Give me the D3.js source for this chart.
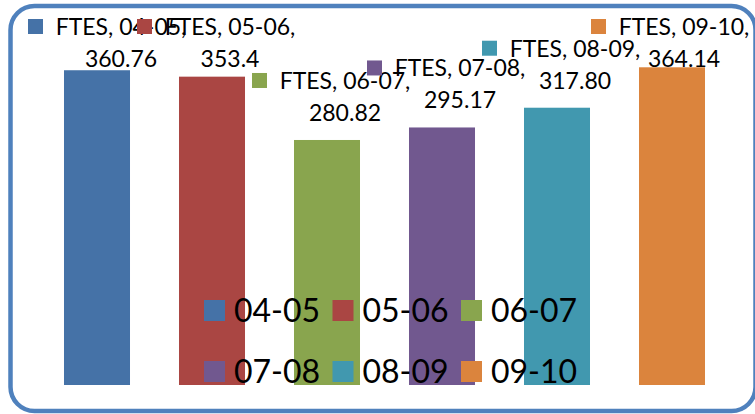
<!DOCTYPE html>
<html>
<head>
  <meta charset="utf-8">
  <script src="https://d3js.org/d3.v7.min.js"></script>
  <style>
    body { margin: 0; background: #fff; }
    text { font-family: Lato, "Open Sans", sans-serif; fill: #000; }
  </style>
</head>
<body>
<script>
  // chart values
  var periods = ["04-05", "05-06", "06-07", "07-08", "08-09", "09-10"];
  var ftes = [360.76, 353.4, 280.82, 295.17, 317.80, 364.14];
  var valueLabels = ["360.76", "353.4", "280.82", "295.17", "317.80", "364.14"];
  var seriesName = "FTES";
  var colors = ["#4572a7", "#aa4643", "#89a54e", "#71588f", "#4198af", "#db843d"];
  var yTicks = [0, 400];

  var W = 755, H = 414;
  var svg = d3.select("body").append("svg")
    .attr("width", W)
    .attr("height", H);

  // rounded chart frame
  svg.append("rect")
    .attr("x", 10.5).attr("y", 6)
    .attr("width", 745).attr("height", 405)
    .attr("rx", 24).attr("ry", 24)
    .style("fill", "#fff")
    .style("stroke", "#4f81bd")
    .style("stroke-width", 4.5);

  var x = d3.scaleBand()
    .domain(periods)
    .range([39.5, 729.5])
    .paddingInner(0.426)
    .paddingOuter(0.213);

  var y = d3.scaleLinear()
    .domain([yTicks[0], yTicks[1]])
    .range([385, 36]);

  // bars
  svg.selectAll("rect.bar")
    .data(periods)
    .enter()
    .append("rect")
      .attr("class", "bar")
      .attr("x", function (d) { return x(d); })
      .attr("y", function (d, i) { return y(ftes[i]); })
      .attr("width", x.bandwidth())
      .attr("height", function (d, i) { return y(0) - y(ftes[i]); })
      .style("fill", function (d, i) { return colors[i]; });

  // data labels: "FTES, xx-xx," with a marker, value on the next line
  var labelMinX = 121, labelMaxX = 684, valueTop = 67;
  var labels = svg.selectAll("g.dlabel")
    .data(periods)
    .enter()
    .append("g")
      .attr("class", "dlabel")
      .attr("transform", function (d, i) {
        var cx = Math.max(labelMinX, Math.min(labelMaxX, x(d) + x.bandwidth() / 2 + 18));
        var by = Math.max(valueTop, y(ftes[i]) - 19);
        return "translate(" + cx + "," + by + ")";
      });

  labels.append("rect")
    .attr("x", -93).attr("y", -48)
    .attr("width", 15).attr("height", 15)
    .style("fill", function (d, i) { return colors[i]; });

  labels.append("text")
    .attr("x", 0).attr("y", -32)
    .style("text-anchor", "middle")
    .style("font-size", "23px")
    .text(function (d) { return seriesName + ", " + d + ","; });

  labels.append("text")
    .attr("x", 0).attr("y", 0)
    .style("text-anchor", "middle")
    .style("font-size", "23px")
    .text(function (d, i) { return valueLabels[i]; });

  // legend, 3 per row
  var legend = svg.selectAll("g.legend")
    .data(periods)
    .enter()
    .append("g")
      .attr("class", "legend")
      .attr("transform", function (d, i) {
        return "translate(" + (204 + (i % 3) * 128.5) + "," + (300 + Math.floor(i / 3) * 61) + ")";
      });

  legend.append("rect")
    .attr("width", 21).attr("height", 21)
    .style("fill", function (d, i) { return colors[i]; });

  legend.append("text")
    .attr("x", 30).attr("y", 22)
    .style("font-size", "32px")
    .text(function (d) { return d; });
</script>
</body>
</html>
